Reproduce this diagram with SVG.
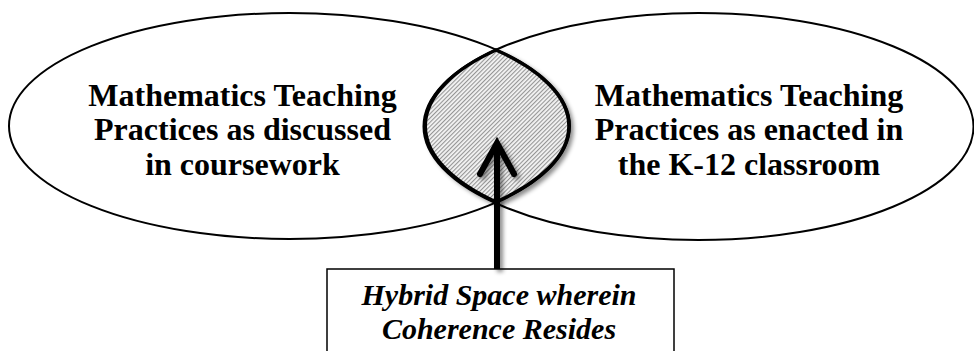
<svg xmlns="http://www.w3.org/2000/svg" width="974" height="351" viewBox="0 0 974 351">
<defs>
<style>
.ell{fill:none;stroke:#000;stroke-width:2}
.lbl{font-family:"Liberation Serif","Times New Roman",serif;font-weight:bold;font-size:32px;text-anchor:middle;fill:#000}
.it{font-style:italic;font-size:30px}
.box{fill:#fff;stroke:#000;stroke-width:1.5}
.arr{fill:none;stroke:#000;stroke-width:6}
</style>
<pattern id="hatch" width="3" height="3" patternUnits="userSpaceOnUse" patternTransform="rotate(45)">
<rect width="3" height="3" fill="#f4f4f4"/>
<line x1="0.6" y1="0" x2="0.6" y2="3" stroke="#707070" stroke-width="0.8"/>
</pattern>
<filter id="shadow" x="-50%" y="-20%" width="200%" height="140%">
<feDropShadow dx="3" dy="3" stdDeviation="2" flood-color="#000" flood-opacity="0.45"/>
</filter>
</defs>
<g id="box-hybrid">
<rect class="box" x="327" y="269" width="347" height="100"/>
<text class="lbl it" x="499" y="305">Hybrid Space wherein</text>
<text class="lbl it" x="499" y="339">Coherence Resides</text>
</g>
<g id="lens-overlap">
<path d="M496 50 A280.5 113 0 0 1 496 202 A275 113.5 0 0 1 496 50 Z" fill="url(#hatch)" stroke="#000" stroke-width="3.5" filter="url(#shadow)"/>
</g>
<g id="ellipse-coursework">
<ellipse class="ell" cx="289.5" cy="126" rx="280.5" ry="113"/>
<text class="lbl" x="242.5" y="106">Mathematics Teaching</text>
<text class="lbl" x="242.5" y="140">Practices as discussed</text>
<text class="lbl" x="242.5" y="175">in coursework</text>
</g>
<g id="ellipse-classroom">
<ellipse class="ell" cx="698.5" cy="126.5" rx="275" ry="113.5"/>
<text class="lbl" x="749" y="106">Mathematics Teaching</text>
<text class="lbl" x="749" y="140">Practices as enacted in</text>
<text class="lbl" x="749" y="175">the K-12 classroom</text>
</g>
<g id="connectors" filter="url(#shadow)">
<line class="arr" x1="497" y1="269" x2="497" y2="144"/>
<polyline class="arr" points="480,174 497,143 514,174" stroke-linejoin="miter" stroke-linecap="round"/>
</g>
</svg>
